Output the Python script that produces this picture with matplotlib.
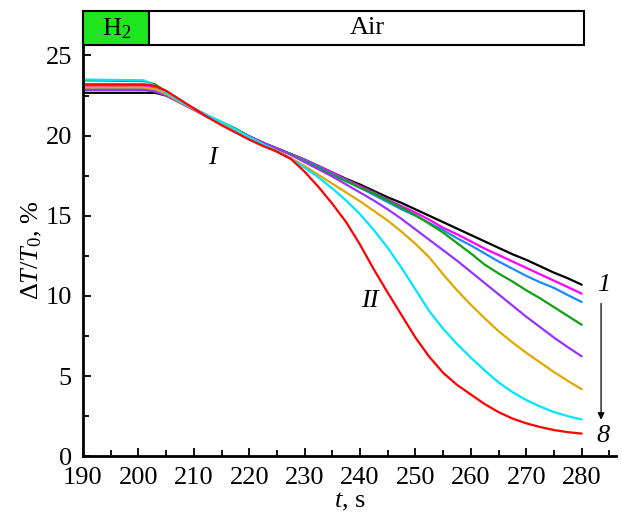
import matplotlib
matplotlib.use("Agg")
import matplotlib.pyplot as plt
from matplotlib.patches import Rectangle
from matplotlib.ticker import MultipleLocator

plt.rcParams['font.family'] = ['Liberation Serif', 'DejaVu Serif']
plt.rcParams['mathtext.fontset'] = 'custom'
plt.rcParams['mathtext.rm'] = 'Liberation Serif'
plt.rcParams['mathtext.it'] = 'Liberation Serif:italic'

# time grid, s
t = [190, 201, 203, 205, 207.5, 210, 212.5, 215, 217.5,
     220, 222.5, 225, 227.5, 230, 232.5, 235, 237.5, 240, 242.5,
     245, 247.5, 250, 252.5, 255, 257.5, 260, 262.5, 265, 267.5,
     270, 272.5, 275, 277.5, 280]

# dT/T0, % for curves 1..8
c1 = [22.67, 22.67, 22.67, 22.5, 22.1, 21.65, 21.2, 20.8, 20.4,
      19.95, 19.55, 19.2, 18.85, 18.5, 18.1, 17.7, 17.3, 16.95, 16.55,
      16.15, 15.8, 15.4, 15.0, 14.6, 14.2, 13.8, 13.4, 13.0, 12.6,
      12.25, 11.85, 11.45, 11.1, 10.7]
c2 = [23.1, 23.1, 23.0, 22.6, 22.1, 21.65, 21.2, 20.8, 20.4,
      19.95, 19.55, 19.2, 18.85, 18.5, 18.1, 17.7, 17.25, 16.85, 16.45,
      16.0, 15.6, 15.2, 14.75, 14.25, 13.85, 13.4, 12.95, 12.55, 12.15,
      11.75, 11.35, 10.95, 10.55, 10.14]
c3 = [22.95, 22.95, 22.85, 22.55, 22.1, 21.65, 21.2, 20.8, 20.4,
      19.95, 19.55, 19.2, 18.85, 18.45, 18.05, 17.6, 17.2, 16.75, 16.3,
      15.85, 15.4, 15.0, 14.55, 14.1, 13.6, 13.15, 12.65, 12.15, 11.7,
      11.25, 10.85, 10.5, 10.05, 9.62]
c4 = [23.45, 23.4, 23.2, 22.75, 22.15, 21.7, 21.25, 20.85, 20.45,
      19.95, 19.55, 19.2, 18.85, 18.4, 18.0, 17.55, 17.15, 16.75, 16.4,
      15.95, 15.5, 15.05, 14.5, 13.95, 13.3, 12.65, 11.95, 11.4, 10.9,
      10.35, 9.85, 9.3, 8.75, 8.2]
c5 = [22.85, 22.85, 22.75, 22.5, 22.05, 21.6, 21.15, 20.75, 20.35,
      19.95, 19.55, 19.2, 18.8, 18.35, 17.9, 17.45, 16.95, 16.45, 15.95,
      15.4, 14.8, 14.15, 13.5, 12.85, 12.2, 11.5, 10.8, 10.1, 9.4,
      8.7, 8.05, 7.4, 6.8, 6.23]
c6 = [23.0, 23.0, 22.9, 22.6, 22.1, 21.65, 21.2, 20.75, 20.35,
      19.9, 19.45, 19.05, 18.6, 18.1, 17.55, 17.0, 16.45, 15.9, 15.3,
      14.7, 14.0, 13.25, 12.4, 11.35, 10.35, 9.45, 8.6, 7.8, 7.1,
      6.45, 5.85, 5.25, 4.7, 4.18]
c7 = [23.5, 23.45, 23.1, 22.7, 22.15, 21.7, 21.25, 20.85, 20.4,
      19.9, 19.45, 19.0, 18.55, 18.0, 17.4, 16.7, 15.95, 15.1, 14.1,
      13.0, 11.75, 10.4, 9.05, 7.95, 7.0, 6.15, 5.35, 4.6, 4.0,
      3.5, 3.1, 2.75, 2.5, 2.29]
c8 = [23.2, 23.2, 23.1, 22.8, 22.25, 21.7, 21.15, 20.65, 20.2,
      19.75, 19.35, 19.0, 18.55, 17.75, 16.8, 15.75, 14.6, 13.2, 11.65,
      10.2, 8.8, 7.4, 6.2, 5.2, 4.45, 3.85, 3.25, 2.75, 2.35,
      2.05, 1.82, 1.63, 1.5, 1.41]

curves = [c1, c2, c3, c4, c5, c6, c7, c8]
colors = ['black', '#ff00ff', '#1e88ff', '#10a010', '#9932ff', '#e0a800', '#00e5ff', '#ff0000']

# gas switching: H2 until t_switch, then air
t_start, t_switch, t_end = 190, 202, 280.5

fig = plt.figure(figsize=(6.22, 5.12), dpi=100)
ax = fig.add_axes([0.1334, 0.109, 0.857, 0.803])

for y, c in zip(curves, colors):
    ax.plot(t, y, color=c, lw=1.6, solid_capstyle='round', solid_joinstyle='round')

ax.set_xlim(190, 286.2)
ax.set_ylim(0, 25.65)
ax.xaxis.set_minor_locator(MultipleLocator(5))
ax.yaxis.set_major_locator(MultipleLocator(5))
ax.yaxis.set_minor_locator(MultipleLocator(2.5))
ax.set_xticks(range(190, 290, 10))
ax.tick_params(which='both', direction='in', width=1.3, labelsize=19)
ax.tick_params(which='major', length=6)
ax.tick_params(which='minor', length=4)
ax.tick_params(axis='y', pad=8)
ax.tick_params(axis='x', pad=8)
for s in ['top', 'right']:
    ax.spines[s].set_visible(False)
for s in ['left', 'bottom']:
    ax.spines[s].set_linewidth(2)

ax.set_xlabel(r'$t$, s', fontsize=19, labelpad=1)
ax.set_ylabel(r'$\Delta T/T_0$, %', fontsize=19, labelpad=1)

# gas bar above the plot
y0, y1 = 25.65, 27.75
ax.add_patch(Rectangle((t_start, y0), t_switch - t_start, y1 - y0,
                       facecolor='#1ee61e', edgecolor='black', lw=1.5, clip_on=False))
ax.add_patch(Rectangle((t_switch, y0), t_end - t_switch, y1 - y0,
                       facecolor='white', edgecolor='black', lw=1.5, clip_on=False))
ax.text((t_start + t_switch) / 2, (y0 + y1) / 2, r'H$_2$', ha='center', va='center', fontsize=19)
ax.text((t_switch + t_end) / 2, (y0 + y1) / 2, 'Air', ha='center', va='center', fontsize=19)

# curve labels
ax.text(213.3, 18.6, 'I', style='italic', fontsize=19, ha='center', va='center')
ax.text(241.8, 9.7, 'II', style='italic', fontsize=19, ha='center', va='center')
ax.text(283.9, 10.66, '1', style='italic', fontsize=19, ha='center', va='center')
ax.text(283.9, 1.25, '8', style='italic', fontsize=19, ha='center', va='center')
ax.annotate('', xy=(283.5, 2.1), xytext=(283.5, 9.7),
            arrowprops=dict(arrowstyle='-|>', color='black', lw=0.9, mutation_scale=10))

fig.savefig('out.png', dpi=100)
